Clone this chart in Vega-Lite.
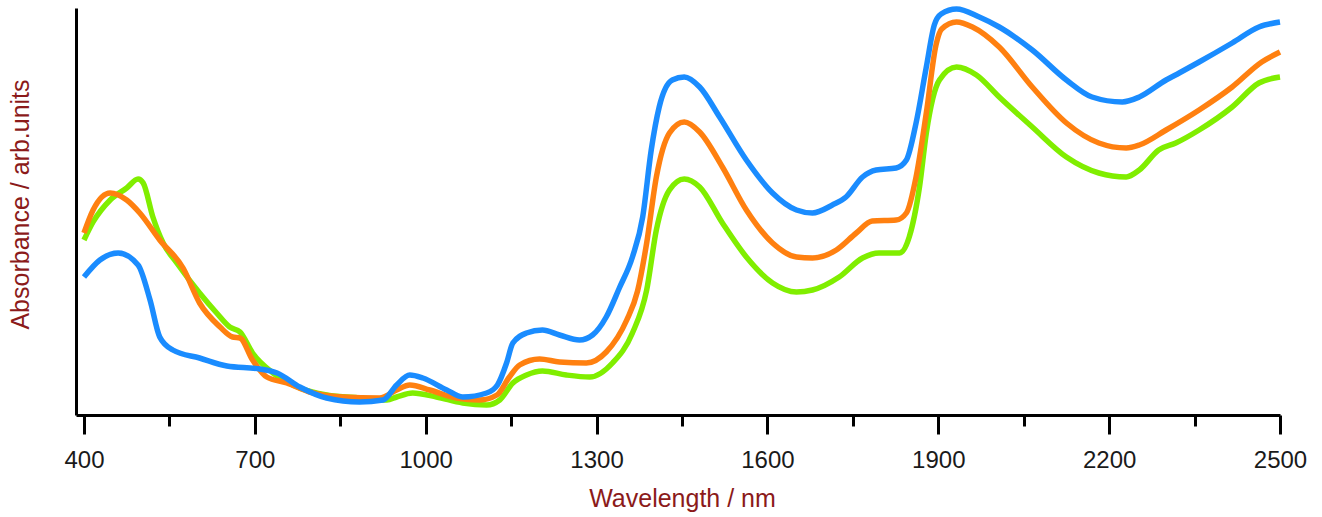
{
  "$schema": "https://vega.github.io/schema/vega-lite/v6.json",
  "width": 1204,
  "height": 407,
  "autosize": {"type": "none"},
  "padding": {"left": 76, "top": 8, "right": 42, "bottom": 102},
  "background": "white",
  "config": {"view": {"stroke": null}, "font": "Liberation Sans"},
  "datasets": {
    "blue": [[400,138],[428,155],[460,162],[495,150],[516,115],[533,78],[556,65],[603,57],[651,49],[709,46],[739,42],[779,28],[826,17],[884,13],[925,15],[949,30],[972,40],[995,37],[1037,25],[1065,18],[1107,22],[1126,30],[1142,52],[1153,72],[1177,82],[1205,85],[1235,80],[1270,75],[1293,80],[1317,98],[1340,127],[1363,158],[1381,198],[1396,265],[1410,308],[1433,335],[1454,338],[1481,328],[1516,298],[1563,255],[1609,222],[1651,205],[1679,202],[1714,210],[1738,218],[1767,238],[1791,245],[1826,247],[1844,255],[1861,292],[1879,348],[1893,390],[1905,401],[1932,406],[1972,398],[2007,388],[2065,365],[2125,335],[2170,318],[2223,313],[2253,318],[2300,335],[2323,342],[2358,353],[2416,372],[2463,388],[2500,393]],
    "orange": [[400,182],[416,205],[446,222],[475,215],[498,202],[533,175],[574,147],[603,112],[639,88],[661,78],[674,77],[696,55],[721,38],[756,32],[796,23],[854,18],[919,17],[949,25],[972,30],[1007,25],[1054,17],[1095,15],[1125,20],[1147,38],[1165,50],[1200,56],[1235,53],[1282,52],[1317,63],[1353,95],[1372,124],[1388,172],[1405,238],[1428,282],[1454,293],[1481,283],[1521,248],[1563,205],[1609,172],[1651,158],[1679,157],[1721,165],[1756,182],[1784,194],[1826,195],[1844,202],[1861,238],[1879,302],[1896,370],[1906,386],[1932,393],[1960,388],[2007,368],[2065,328],[2125,292],[2182,272],[2230,267],[2253,270],[2300,285],[2358,305],[2416,328],[2468,353],[2500,363]],
    "green": [[400,175],[416,193],[446,215],[475,227],[495,236],[504,232],[521,198],[539,172],[563,152],[603,122],[633,102],[656,88],[674,83],[696,62],[732,42],[779,27],[826,20],[884,17],[932,15],[949,18],[977,22],[1019,18],[1065,12],[1107,10],[1130,15],[1153,32],[1177,40],[1205,44],[1247,40],[1288,38],[1328,52],[1363,82],[1388,125],[1405,185],[1428,225],[1454,236],[1481,228],[1521,192],[1563,158],[1609,132],[1651,123],[1679,125],[1726,138],[1767,157],[1796,162],[1832,162],[1849,178],[1867,228],[1879,282],[1902,335],[1932,348],[1967,340],[2007,318],[2065,288],[2125,258],[2182,242],[2230,238],[2253,245],[2287,265],[2317,272],[2358,285],[2416,308],[2463,332],[2500,338]]
  },
  "resolve": {"axis": {"x": "independent"}},
  "layer": [
    {
      "data": {"name": "green"},
      "transform": [{"calculate": "datum[0]", "as": "nm"}, {"calculate": "datum[1]", "as": "v"}],
      "mark": {"type": "line", "color": "#80EE00", "strokeWidth": 5.5, "interpolate": "monotone", "clip": false},
      "encoding": {
        "x": {
          "field": "nm", "type": "quantitative",
          "scale": {"domain": [386, 2500], "nice": false, "zero": false},
          "axis": {
            "orient": "bottom",
            "title": "Wavelength / nm",
            "values": [400,700,1000,1300,1600,1900,2200,2500],
            "format": "d",
            "tickSize": 19, "tickWidth": 3, "tickColor": "black",
            "domainWidth": 3, "domainColor": "black",
            "grid": false,
            "labelFont": "Liberation Sans", "labelFontSize": 24, "labelColor": "#1a1a1a",
            "labelPadding": 14, "labelFlush": false, "labelOverlap": false,
            "titleFont": "Liberation Sans", "titleFontSize": 25, "titleFontWeight": "normal",
            "titleColor": "#8B1A1A", "titleBaseline": "alphabetic", "titleY": 91, "titleX": 606
          }
        },
        "y": {
          "field": "v", "type": "quantitative",
          "scale": {"domain": [0, 407], "nice": false},
          "axis": {
            "title": "Absorbance / arb.units",
            "ticks": false, "labels": false, "grid": false,
            "domainWidth": 3, "domainColor": "black",
            "titleFont": "Liberation Sans", "titleFontSize": 25, "titleFontWeight": "normal",
            "titleColor": "#8B1A1A", "titleAngle": 270, "titleBaseline": "alphabetic",
            "titleAlign": "center", "titleX": -48, "titleY": 196
          }
        }
      }
    },
    {
      "data": {"name": "orange"},
      "transform": [{"calculate": "datum[0]", "as": "nm"}, {"calculate": "datum[1]", "as": "v"}],
      "mark": {"type": "line", "color": "#FF8010", "strokeWidth": 5.5, "interpolate": "monotone", "clip": false},
      "encoding": {
        "x": {
          "field": "nm", "type": "quantitative",
          "axis": {
            "orient": "bottom",
            "offset": 0,
            "title": null,
            "values": [550,850,1150,1450,1750,2050,2350],
            "labels": false, "domain": false, "grid": false,
            "tickSize": 11, "tickWidth": 3, "tickColor": "black"
          }
        },
        "y": {"field": "v", "type": "quantitative"}
      }
    },
    {
      "data": {"name": "blue"},
      "transform": [{"calculate": "datum[0]", "as": "nm"}, {"calculate": "datum[1]", "as": "v"}],
      "mark": {"type": "line", "color": "#1A8CFF", "strokeWidth": 5.5, "interpolate": "monotone", "clip": false},
      "encoding": {
        "x": {"field": "nm", "type": "quantitative", "axis": null},
        "y": {"field": "v", "type": "quantitative"}
      }
    }
  ]
}
